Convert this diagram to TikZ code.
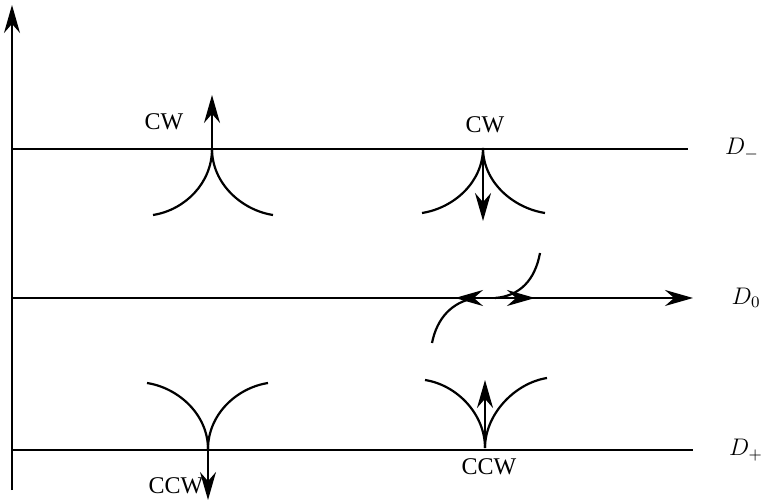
\documentclass[tikz,border=0pt]{standalone}
\usepackage{fontspec}
\setmainfont{Liberation Serif}
\usetikzlibrary{arrows.meta}

\begin{document}
\begin{tikzpicture}[x=0.5pt,y=-0.5pt,line width=1.1pt,font=\fontsize{12}{14}\selectfont,
  arr/.style={-{Stealth[length=14pt,width=8pt]}}]
\useasboundingbox (0,0) rectangle (764,501);
% axis and the three levels
\coordinate (o) at (12,490);
\coordinate (top) at (12,5);
\draw[arr] (o) -- (top);
\coordinate (dm) at (12,149);
\coordinate (dz) at (12,298);
\coordinate (dp) at (12,450);
\draw (dm) -- (688,149) node (lm) at (742,149) {$D_-$};
\draw[arr] (dz) -- (693,298) node (lz) at (746,298) {$D_0$};
\draw (dp) -- (693,450) node (lp) at (746,450) {$D_+$};
% cusps
\coordinate (c1) at (212,149);
\coordinate (c2) at (483,148);
\coordinate (c3) at (208,449);
\coordinate (c4) at (485,448);
\draw (c1) .. controls +(0,34) and +(32,-5) .. +(-59,66);
\draw (c1) .. controls +(0,34) and +(-32,-5) .. +(61,66);
\draw (c2) .. controls +(0,34) and +(32,-5) .. +(-61,65);
\draw (c2) .. controls +(0,34) and +(-32,-5) .. +(62,65);
\draw (c3) .. controls +(0,-34) and +(32,5) .. +(-61,-66);
\draw (c3) .. controls +(0,-34) and +(-32,5) .. +(60,-66);
\draw (c4) .. controls +(0,-34) and +(32,5) .. +(-60,-68);
\draw (c4) .. controls +(0,-34) and +(-32,5) .. +(62,-70);
\coordinate (c1u) at (212,95);
\coordinate (c2d) at (483,221);
\coordinate (c3d) at (208,500);
\coordinate (c4u) at (485,380);
\draw[arr] (c1) -- (c1u);
\draw[arr] (c2) -- (c2d);
\draw[arr] (c3) -- (c3d);
\draw[arr] (c4) -- (c4u);
\node (cw1) at (164,122) {CW};
\node (cw2) at (485,125) {CW};
\node (ccw1) at (176,486) {CCW};
\node (ccw2) at (489,467) {CCW};
% crossing at D0
\coordinate (m) at (490,298);
\coordinate (ml) at (455,298);
\coordinate (mr) at (535,298);
\draw[arr] (m) -- (ml);
\draw[arr] (m) -- (mr);
\draw (432,343) .. controls (437,318) and (452,302) .. (475,298);
\draw (495,298) .. controls (520,296) and (535,280) .. (540,253);
\end{tikzpicture}
\end{document}
